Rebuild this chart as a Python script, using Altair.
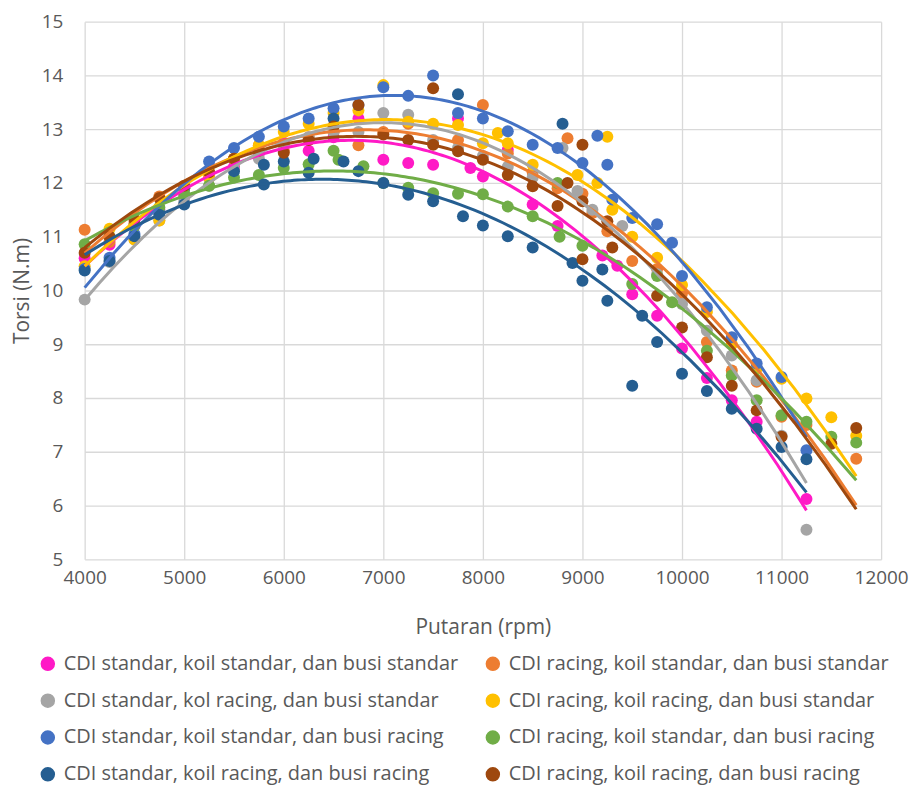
import altair as alt
import pandas as pd

series_names = [
    "CDI standar, koil standar, dan busi standar",
    "CDI racing, koil standar, dan busi standar",
    "CDI standar, kol racing, dan  busi standar",
    "CDI racing, koil racing, dan busi standar",
    "CDI standar, koil standar, dan busi racing",
    "CDI racing, koil standar, dan busi racing",
    "CDI standar, koil racing, dan busi racing",
    "CDI racing, koil racing, dan busi racing",
]
colors = ["#FF1AC6", "#ED7D31", "#A5A5A5", "#FFC000", "#4472C4", "#70AD47", "#255E91", "#9E480E"]

pink_rpm = [4000, 4250, 4500, 4750, 5000, 5250, 5500, 5750, 6000, 6250, 6500, 6750, 7000, 7250, 7500, 7750, 7875, 8000, 8250, 8500, 8750, 9200, 9350, 9500, 9750, 10000, 10250, 10500, 10750, 11250]
pink_tq = [10.6, 10.85, 11.2, 11.5, 11.75, 12.1, 12.3, 12.55, 12.75, 12.6, 12.85, 13.2, 12.43, 12.37, 12.34, 13.2, 12.28, 12.12, 12.62, 11.6, 11.2, 10.65, 10.46, 9.93, 9.53, 8.92, 8.37, 7.96, 7.56, 6.12]

orange_rpm = [4000, 4250, 4500, 4750, 5000, 5250, 5500, 5750, 6000, 6250, 6500, 6750, 7000, 7250, 7500, 7750, 8000, 8250, 8500, 8750, 8850, 9000, 9100, 9250, 9500, 9750, 10000, 10250, 10500, 10750, 11000, 11250, 11750]
orange_tq = [11.13, 10.9, 11.25, 11.75, 11.9, 12.2, 12.45, 12.7, 12.6, 12.85, 12.95, 12.7, 12.95, 13.1, 12.75, 12.8, 13.45, 12.55, 12.2, 11.9, 12.83, 11.8, 11.44, 11.1, 10.55, 10.4, 9.95, 9.04, 8.51, 8.3, 7.65, 7.5, 6.87]

gray_rpm = [4000, 4250, 4500, 4750, 5000, 5250, 5500, 5750, 6000, 6250, 6500, 6750, 7000, 7250, 7500, 7750, 8000, 8250, 8500, 8800, 8950, 9100, 9400, 9750, 10000, 10250, 10500, 10750, 11000, 11250]
gray_tq = [9.83, 10.53, 10.95, 11.3, 11.65, 11.95, 12.25, 12.45, 12.7, 12.85, 12.95, 12.95, 13.3, 13.27, 12.8, 12.65, 12.5, 12.3, 12.1, 12.65, 11.85, 11.5, 11.2, 10.3, 9.75, 9.25, 8.79, 8.33, 7.3, 5.55]

yellow_rpm = [4000, 4250, 4500, 4750, 5000, 5250, 5500, 5750, 6000, 6250, 6500, 6750, 7000, 7250, 7500, 7750, 8000, 8150, 8250, 8500, 8950, 9150, 9250, 9300, 9500, 9750, 10000, 10250, 10500, 10750, 11000, 11250, 11500, 11750]
yellow_tq = [10.45, 11.15, 10.95, 11.3, 11.9, 12.1, 12.45, 12.7, 12.95, 13.1, 13.3, 13.35, 13.82, 13.14, 13.1, 13.08, 12.74, 12.93, 12.74, 12.34, 12.15, 12.0, 12.86, 11.5, 11.0, 10.61, 10.1, 9.6, 9.0, 8.55, 8.36, 7.99, 7.64, 7.3]

blue_rpm = [4000, 4250, 4500, 4750, 5000, 5250, 5500, 5750, 6000, 6250, 6500, 6750, 7000, 7250, 7500, 7750, 8000, 8250, 8500, 8750, 9000, 9150, 9250, 9300, 9500, 9750, 9900, 10000, 10250, 10500, 10750, 11000, 11250]
blue_tq = [10.4, 10.61, 11.05, 11.45, 11.9, 12.4, 12.65, 12.86, 13.05, 13.2, 13.39, 13.45, 13.78, 13.62, 14.0, 13.3, 13.2, 12.96, 12.71, 12.65, 12.37, 12.88, 12.34, 11.69, 11.35, 11.23, 10.89, 10.27, 9.69, 9.13, 8.64, 8.39, 7.03]

green_rpm = [4000, 4250, 4500, 4750, 5000, 5250, 5500, 5750, 6000, 6250, 6500, 6550, 6800, 7000, 7250, 7500, 7750, 8000, 8250, 8500, 8750, 8770, 9000, 9500, 9750, 9900, 10250, 10500, 10750, 11000, 11250, 11500, 11750]
green_tq = [10.86, 11.0, 11.2, 11.55, 11.8, 11.95, 12.1, 12.15, 12.28, 12.35, 12.6, 12.43, 12.31, 12.0, 11.91, 11.81, 11.8, 11.79, 11.56, 11.38, 12.0, 11.0, 10.83, 10.12, 10.27, 9.78, 8.88, 8.42, 7.96, 7.68, 7.56, 7.28, 7.17]

dblue_rpm = [4000, 4250, 4500, 4750, 5000, 5500, 5800, 5800, 6000, 6250, 6300, 6600, 6750, 7000, 7250, 7500, 7800, 8000, 8250, 8500, 8900, 9000, 9200, 9250, 9600, 9750, 10000, 10250, 10500, 10750, 11000, 11250]
dblue_tq = [10.37, 10.55, 11.01, 11.41, 11.6, 12.22, 11.97, 12.34, 12.4, 12.19, 12.45, 12.4, 12.22, 12.0, 11.78, 11.66, 11.38, 11.21, 11.01, 10.8, 10.51, 10.18, 10.39, 9.81, 9.53, 9.04, 8.45, 8.13, 7.8, 7.43, 7.09, 6.86]
# stray readings of the same run that the original trendline does not follow
dblue_stray_rpm = [6500, 7750, 8800, 9500]
dblue_stray_tq = [13.2, 13.65, 13.1, 8.23]

brown_rpm = [4000, 4250, 4500, 4750, 5000, 5250, 5500, 5750, 6000, 6250, 6500, 6750, 7000, 7250, 7500, 7500, 7750, 8000, 8250, 8500, 8750, 8850, 9000, 9000, 9000, 9250, 9300, 9750, 10000, 10250, 10500, 10750, 11000, 11500, 11750]
brown_tq = [10.7, 11.0, 11.32, 11.72, 11.95, 12.2, 12.45, 12.6, 12.56, 12.8, 13.05, 13.45, 12.9, 12.8, 13.76, 12.71, 12.59, 12.43, 12.15, 11.94, 11.57, 12.0, 12.71, 11.66, 10.58, 11.29, 10.8, 9.9, 9.31, 8.76, 8.23, 7.77, 7.28, 7.15, 7.44]

all_rpm = [pink_rpm, orange_rpm, gray_rpm, yellow_rpm, blue_rpm, green_rpm, dblue_rpm, brown_rpm]
all_tq = [pink_tq, orange_tq, gray_tq, yellow_tq, blue_tq, green_tq, dblue_tq, brown_tq]

rows = []
for i, (name, xs, ys) in enumerate(zip(series_names, all_rpm, all_tq)):
    for x, y in zip(xs, ys):
        rows.append({"series": name, "order": i, "rpm": x, "torsi": y, "fit": 1})
    if i == 6:
        for x, y in zip(dblue_stray_rpm, dblue_stray_tq):
            rows.append({"series": name, "order": i, "rpm": x, "torsi": y, "fit": 0})
df = pd.DataFrame(rows)

# legend fills column by column: reorder so rows read left-to-right like the original
legend_order = [series_names[i] for i in (0, 2, 4, 6, 1, 3, 5, 7)]
legend_colors = [colors[i] for i in (0, 2, 4, 6, 1, 3, 5, 7)]

FONT = "Open Sans"
color_scale = alt.Scale(domain=legend_order, range=legend_colors)

x_enc = alt.X("rpm:Q", title="Putaran (rpm)",
              scale=alt.Scale(domain=[4000, 12000], nice=False),
              axis=alt.Axis(values=list(range(4000, 12001, 1000)), format="d"))
y_enc = alt.Y("torsi:Q", title="Torsi (N.m)",
              scale=alt.Scale(domain=[5, 15], nice=False, zero=False),
              axis=alt.Axis(values=list(range(5, 16))))

points = alt.Chart(df).mark_circle(size=145, opacity=1).encode(
    x=x_enc,
    y=y_enc,
    color=alt.Color("series:N", scale=color_scale, sort=legend_order, title=None,
                    legend=alt.Legend(orient="none", legendX=-47, legendY=635, columns=2,
                                      symbolType="circle", symbolSize=170,
                                      labelFontSize=20, labelFont=FONT, labelColor="#595959",
                                      labelLimit=600, columnPadding=24, rowPadding=17,
                                      labelOffset=6)),
    order=alt.Order("order:Q"),
)

lines = alt.Chart(df).transform_filter(
    alt.datum.fit == 1
).transform_regression(
    "rpm", "torsi", groupby=["series"], method="poly", order=2
).mark_line(strokeWidth=3).encode(
    x=alt.X("rpm:Q"),
    y=alt.Y("torsi:Q"),
    color=alt.Color("series:N", scale=color_scale, sort=legend_order, legend=None),
)

chart = alt.layer(points, lines).properties(
    width=800, height=540,
    padding={"left": 3, "top": 3, "right": 0, "bottom": 5},
    background="white",
).configure_axis(
    grid=True, gridColor="#D9D9D9", gridWidth=1.3, domain=False, ticks=False,
    labelFont=FONT, labelFontSize=19, labelColor="#595959", labelFlush=False,
    titleFont=FONT, titleFontSize=21, titleColor="#595959", titleFontWeight="normal",
).configure_axisX(labelPadding=9, titlePadding=30).configure_axisY(
    labelPadding=22, titlePadding=9
).configure_view(stroke=None)

chart.save("out.html", embed_options={"renderer": "svg", "actions": False})
